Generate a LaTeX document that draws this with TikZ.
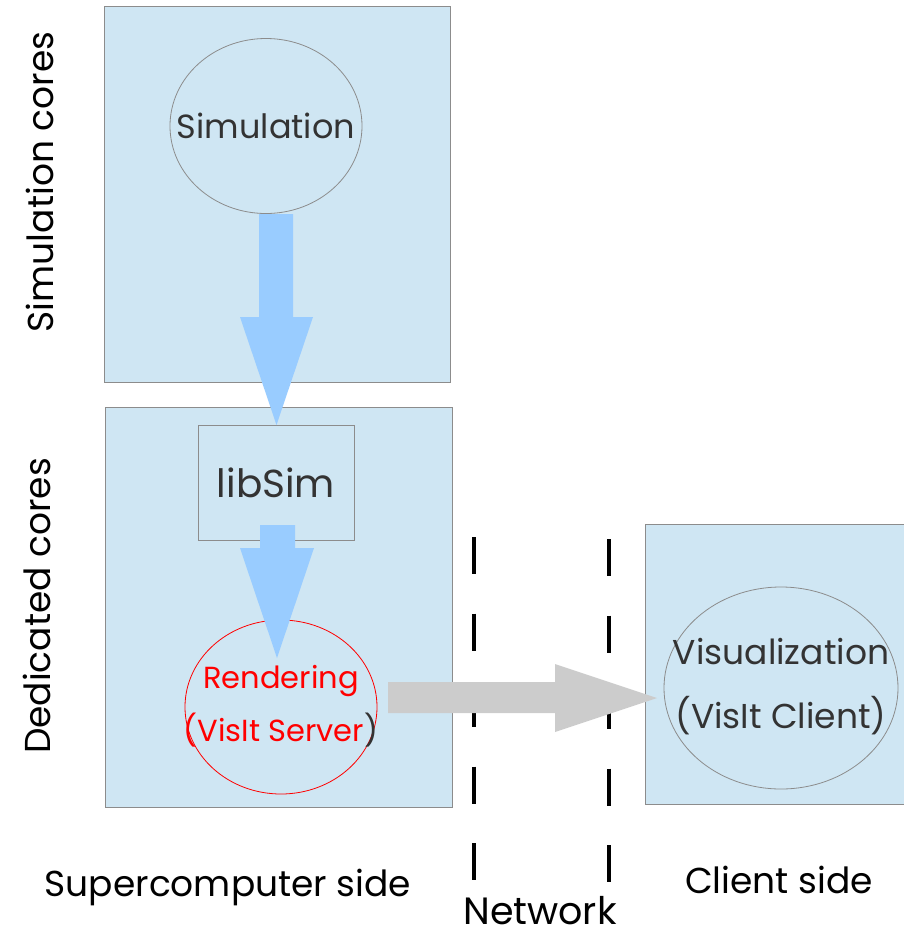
\documentclass[tikz,border=0pt]{standalone}
\usepackage{fontspec}
\setmainfont{Poppins}
\usetikzlibrary{shapes.geometric}
\definecolor{boxfill}{RGB}{207,230,243}
\definecolor{boxline}{RGB}{140,140,140}
\definecolor{bluearrow}{RGB}{153,204,255}
\definecolor{grayarrow}{RGB}{204,204,204}
\definecolor{txt}{RGB}{51,51,51}
\begin{document}
\begin{tikzpicture}[x=1pt,y=-1pt,
  panel/.style={rectangle, fill=boxfill, draw=boxline, line width=1pt, inner sep=0pt},
  oval/.style={ellipse, draw=boxline, line width=0.8pt, inner sep=0pt},
  ovaltxt/.style={align=center, text=txt, inner sep=0pt},
  lbl/.style={font=\fontsize{36}{42}\selectfont, text=black, inner sep=0pt},
  netline/.style={line width=4pt, dash pattern=on 37pt off 39.5pt}]
\useasboundingbox (0,0) rectangle (904,938);
% panels
\node[panel, minimum width=346pt, minimum height=376pt] (simbox) at (277,194) {};
\node[panel, minimum width=347pt, minimum height=400pt] (dedbox) at (278.5,607) {};
\fill[boxfill] (646,525) rectangle (904,804);
\node[inner sep=0pt, minimum width=258pt, minimum height=279pt] (clientbox) at (775,664.5) {};
\draw[boxline, line width=1pt] (clientbox.north east) -- (clientbox.north west) -- (clientbox.south west) -- (clientbox.south east);
% network lines
\coordinate (n1top) at (474,537);
\coordinate (n1bot) at (474,883);
\coordinate (n2top) at (609,539);
\coordinate (n2bot) at (609,885);
\draw[netline] (n1top) -- (n1bot);
\draw[netline] (n2top) -- (n2bot);
% inner nodes
\node[oval, minimum width=192pt, minimum height=175pt] (sim) at (266,126) {};
\node[ovaltxt, font=\fontsize{33.5}{40}\selectfont] (simtxt) at (sim.center) {Simulation};
\node[rectangle, draw=boxline, line width=1pt, minimum width=156pt, minimum height=115pt, text=txt, font=\fontsize{39}{44}\selectfont] (lib) at (276,482.5) {libSim};
\node[oval, draw=red, minimum width=192pt, minimum height=174pt] (rend) at (281,707) {};
\node[ovaltxt, font=\fontsize{30.5}{53}\selectfont, text=red] (rendtxt) at (281,706) {Rendering\\(VisIt Server\textcolor{txt}{)}};
\node[oval, minimum width=234pt, minimum height=202pt] (vis) at (781,688) {};
\node[ovaltxt, font=\fontsize{34.5}{64}\selectfont] (vistxt) at (781,687) {Visualization\\(VisIt Client)};
% arrows
\fill[bluearrow] (259,214) -- (293,214) -- (293,317) -- (313,317) -- (276.5,425) -- (240,317) -- (259,317) -- cycle;
\fill[bluearrow] (260,525) -- (295,525) -- (295,548) -- (314,548) -- (277,658) -- (240,548) -- (260,548) -- cycle;
\fill[grayarrow] (388,682) -- (555,682) -- (555,664) -- (657,698) -- (555,732) -- (555,713) -- (388,713) -- cycle;
% labels
\node[lbl, rotate=90] (simcores) at (40,182) {Simulation cores};
\node[lbl, rotate=90] (dedcores) at (37,606) {Dedicated cores};
\node[lbl] (superside) at (228,887) {Supercomputer side};
\node[lbl, font=\fontsize{38}{44}\selectfont] (network) at (540,911) {Network};
\node[lbl] (clientside) at (779,880) {Client side};
\end{tikzpicture}
\end{document}
